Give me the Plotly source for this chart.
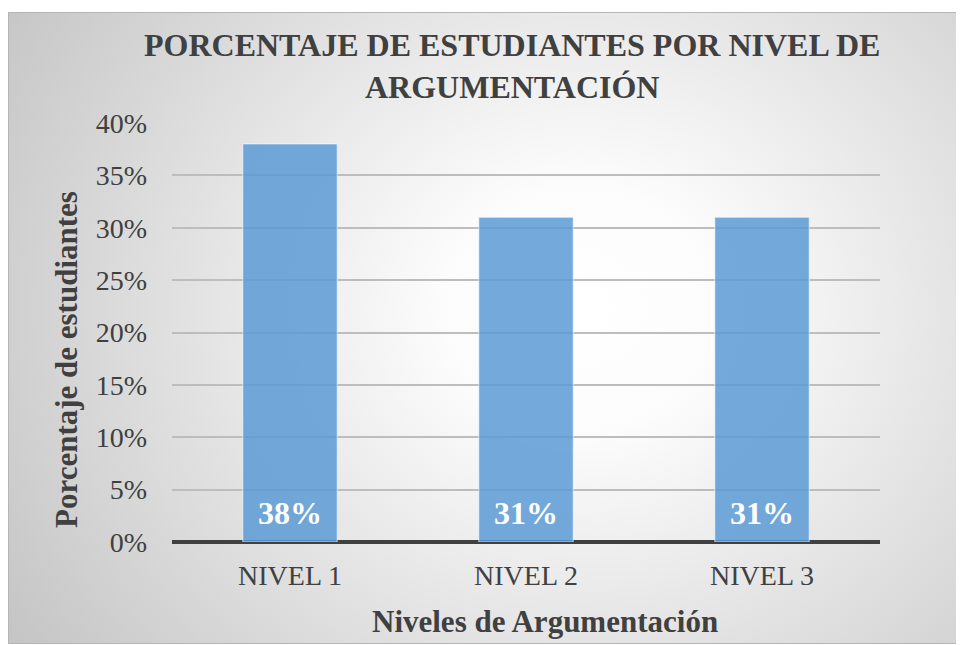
import base64
import plotly.graph_objects as go

categories = ["NIVEL 1", "NIVEL 2", "NIVEL 3"]
values = [0.38, 0.31, 0.31]
labels = ["38%", "31%", "31%"]
y_ticks = [0, 0.05, 0.10, 0.15, 0.20, 0.25, 0.30, 0.35, 0.40]
y_tick_labels = ["0%", "5%", "10%", "15%", "20%", "25%", "30%", "35%", "40%"]

# page is drawn with an 8px body margin, so the figure is 8px smaller
OFF = 8
W, H = 964 - OFF, 645 - OFF
L, R, T, B = 172 - OFF, 84, 123 - OFF, 103
pw, ph = W - L - R, H - T - B

def px_x(p):  # p in page pixels
    return (p - OFF - L) / pw

def px_y(p):
    return (H - B - (p - OFF)) / ph

svg = (
    '<svg xmlns="http://www.w3.org/2000/svg" width="956" height="632" preserveAspectRatio="none">'
    '<defs><radialGradient id="g" cx="0.6" cy="0.47" r="0.72" '
    'gradientTransform="translate(0.6 0.47) scale(1 1.35) translate(-0.6 -0.47)">'
    '<stop offset="0" stop-color="#ffffff"/>'
    '<stop offset="0.2" stop-color="#fcfcfc"/>'
    '<stop offset="1" stop-color="#c4c4c4"/>'
    '</radialGradient></defs>'
    '<rect x="0" y="0" width="956" height="632" fill="url(#g)"/>'
    '<rect x="0.5" y="0.5" width="955" height="631" fill="none" stroke="#b5b5b5" stroke-width="1"/>'
    '</svg>'
)
src = "data:image/svg+xml;base64," + base64.b64encode(svg.encode()).decode()

serif = "Liberation Serif, Times New Roman, serif"

fig = go.Figure()
fig.add_trace(go.Bar(
    x=categories, y=values,
    marker=dict(color="rgba(91,155,213,0.85)", line=dict(color="rgba(255,255,255,0.6)", width=1)),
    width=0.4, hoverinfo="skip",
))

annotations = [
    dict(text="PORCENTAJE DE ESTUDIANTES POR NIVEL DE<br>ARGUMENTACIÓN",
         xref="paper", yref="paper", x=px_x(512), y=px_y(66),
         xanchor="center", yanchor="middle", showarrow=False,
         font=dict(family=serif, size=32, color="#404040", weight="bold")),
    dict(text="Porcentaje de estudiantes", textangle=-90,
         xref="paper", yref="paper", x=px_x(66), y=px_y(360),
         xanchor="center", yanchor="middle", showarrow=False,
         font=dict(family=serif, size=31, color="#404040", weight="bold")),
    dict(text="Niveles de Argumentación",
         xref="paper", yref="paper", x=px_x(545), y=px_y(621),
         xanchor="center", yanchor="middle", showarrow=False,
         font=dict(family=serif, size=31, color="#404040", weight="bold")),
]
for c, t in zip(categories, labels):
    annotations.append(dict(text=t, x=c, y=0, xref="x", yref="y",
                            yanchor="bottom", yshift=9, showarrow=False,
                            font=dict(family=serif, size=32, color="white", weight="bold")))

fig.update_layout(
    width=W, height=H,
    margin=dict(l=L, r=R, t=T, b=B),
    paper_bgcolor="white", plot_bgcolor="rgba(0,0,0,0)",
    showlegend=False,
    images=[dict(source=src, xref="paper", yref="paper",
                 x=px_x(8), y=px_y(12), sizex=px_x(964) - px_x(8), sizey=px_y(12) - px_y(644),
                 xanchor="left", yanchor="top", sizing="stretch", layer="below")],
    xaxis=dict(showgrid=False, showline=False, ticks="", ticklabelstandoff=14,
               tickfont=dict(family=serif, size=28, color="#404040")),
    yaxis=dict(range=[0, 0.4], tickvals=y_ticks, ticktext=y_tick_labels,
               showgrid=True, gridcolor="#bdbdbd", gridwidth=1.5,
               zeroline=True, zerolinecolor="#404040", zerolinewidth=3.5,
               showline=False, ticks="", ticklabelstandoff=24,
               tickfont=dict(family=serif, size=28, color="#404040")),
    annotations=annotations,
)
fig.write_html("out.html")
